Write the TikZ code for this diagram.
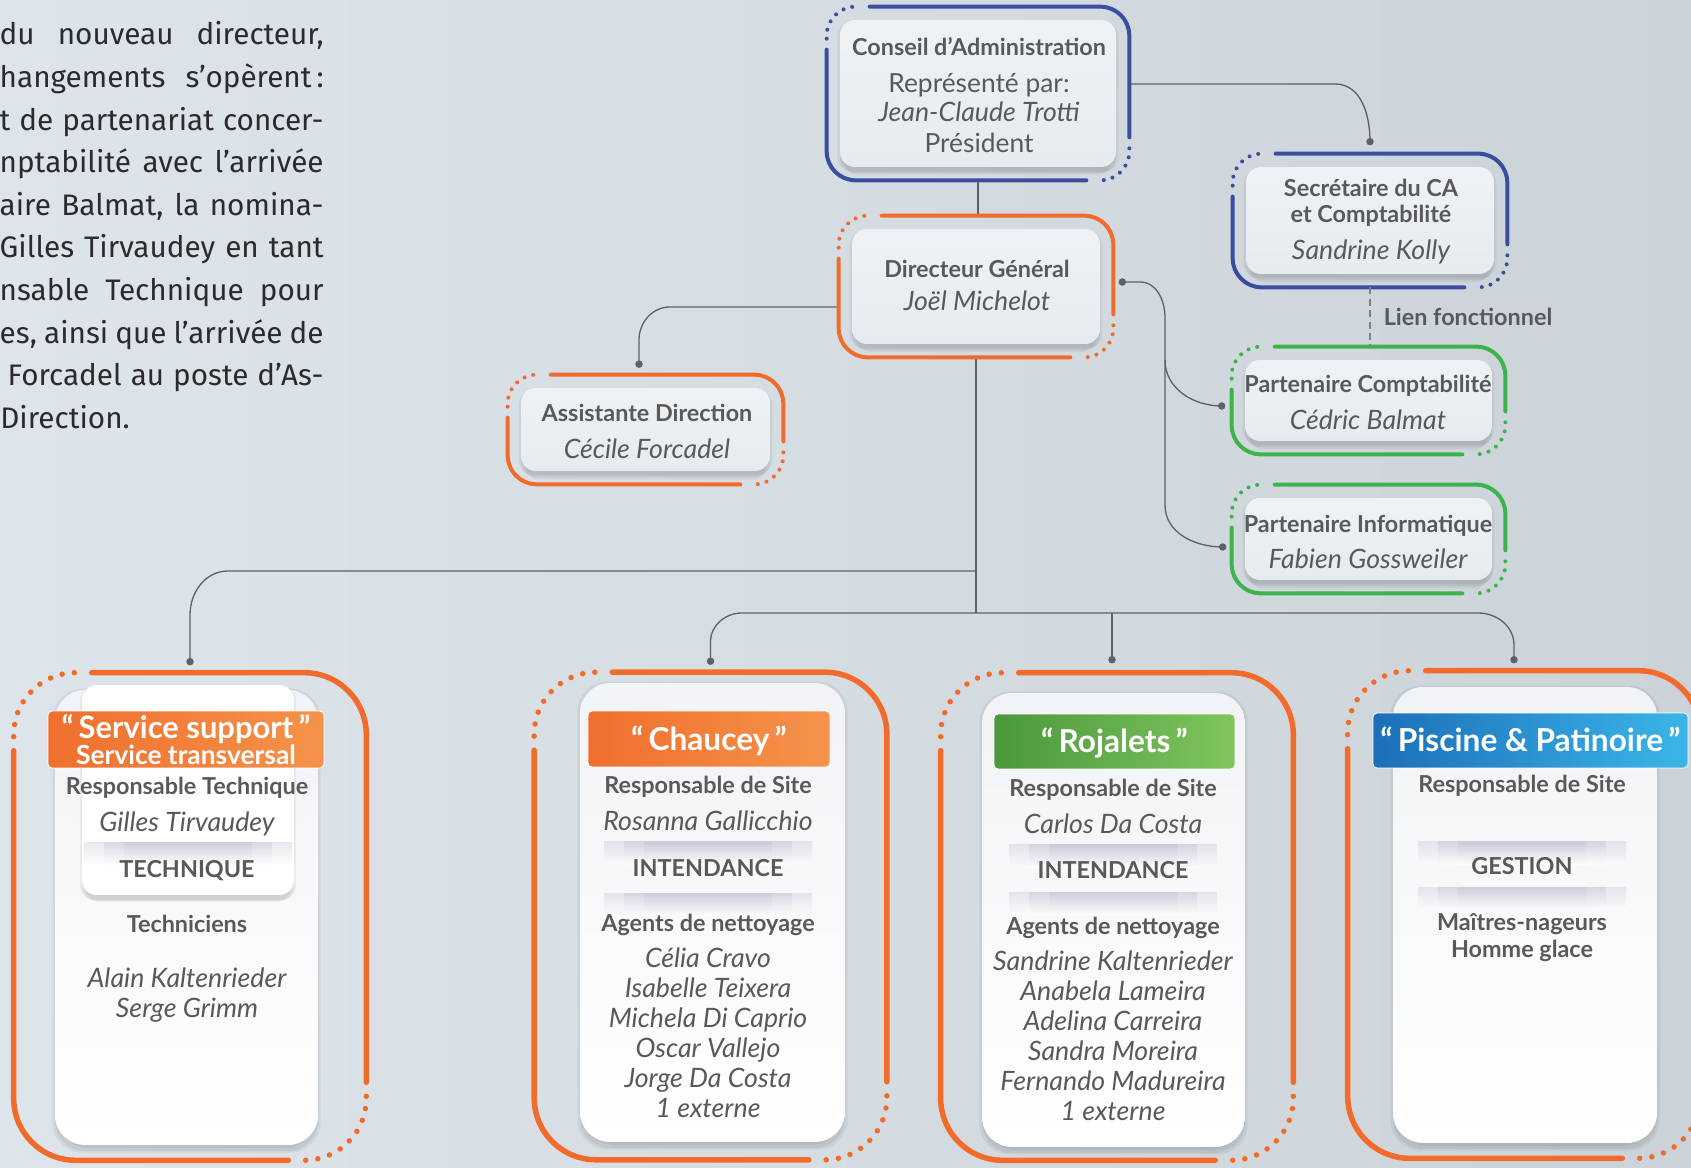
\documentclass[tikz,border=0pt]{standalone}
\usepackage{fontspec}
\setmainfont{Lato}
\newfontfamily\parafont{Fira Sans}
\usetikzlibrary{shadows}

\definecolor{bgleft}{HTML}{DEE5EA}
\definecolor{bgright}{HTML}{CBD3D9}
\definecolor{ink}{HTML}{58595B}
\definecolor{paraink}{HTML}{2B2B2D}
\definecolor{wire}{HTML}{606165}
\definecolor{cablue}{HTML}{3A4EA0}
\definecolor{dirorange}{HTML}{F26B2B}
\definecolor{partgreen}{HTML}{3CB44B}
\definecolor{cardtop}{HTML}{EEF2F5}
\definecolor{cardbot}{HTML}{E6EBEF}
\definecolor{sitetop}{HTML}{F1F3F6}
\definecolor{band}{HTML}{B9B7CC}
\definecolor{orangeL}{HTML}{F06F2E}
\definecolor{orangeR}{HTML}{F5934A}
\definecolor{greenL}{HTML}{4B983D}
\definecolor{greenR}{HTML}{80C55D}
\definecolor{blueL}{HTML}{1C6FB9}
\definecolor{blueR}{HTML}{3BB6E8}

% ring round a unit, solid with two dotted corners
% #1 node, #2 colour, #3 radius, #4 solid reach, #5 dotted reach, #6 width, #7 dot step
\newcommand{\ringframe}[7]{%
  \draw[#2,line width=#6,line cap=round,rounded corners=#3]
    ([xshift=#4]#1.north west) -- (#1.north east) -- ([yshift=#4]#1.south east);
  \draw[#2,line width=#6,line cap=round,rounded corners=#3]
    ([xshift=-#4]#1.south east) -- (#1.south west) -- ([yshift=-#4]#1.north west);
  \draw[#2,line width=#6,line cap=round,rounded corners=#3,dash pattern=on 0pt off #7]
    ([yshift=#5]#1.south east) -- (#1.south east) -- ([xshift=-#5]#1.south east);
  \draw[#2,line width=#6,line cap=round,rounded corners=#3,dash pattern=on 0pt off #7]
    ([yshift=-#5]#1.north west) -- (#1.north west) -- ([xshift=#5]#1.north west);
}
\newcommand{\topframe}[2]{\ringframe{#1}{#2}{0.58cm}{0.86cm}{0.64cm}{0.08cm}{0.18cm}}
\newcommand{\siteframe}[1]{\ringframe{#1}{dirorange}{1.24cm}{1.56cm}{1.28cm}{0.11cm}{0.245cm}}

\begin{document}
\begin{tikzpicture}[x=0.02cm,y=-0.02cm,
  ring/.style={rectangle,inner sep=0pt},
  dims/.style 2 args={minimum width=#1,minimum height=#2},
  softshadow/.style={
    general shadow={fill=black,opacity=0.05,shadow yshift=-0.06cm,shadow scale=1.02},
    general shadow={fill=black,opacity=0.06,shadow yshift=-0.12cm,shadow scale=1.0},
    general shadow={fill=black,opacity=0.05,shadow yshift=-0.2cm,shadow scale=0.97}},
  topcard/.style={rectangle,inner sep=0pt,rounded corners=0.3cm,top color=cardtop,bottom color=cardbot,softshadow},
  sitecard/.style={rectangle,inner sep=0pt,rounded corners=0.6cm,top color=sitetop,bottom color=white,softshadow},
  sitehead/.style={rectangle,inner sep=0pt,rounded corners=0.08cm,draw=white,line width=0.5pt,text=white,
    font=\bfseries\fontsize{18}{20}\selectfont},
  onecap/.style={text height=13pt,text depth=0pt},
  role/.style={text=ink,inner sep=0pt,anchor=base,font=\bfseries\fontsize{13.3}{16}\selectfont},
  who/.style={text=ink,inner sep=0pt,anchor=base,font=\itshape\fontsize{15.2}{17}\selectfont},
  note/.style={text=ink,inner sep=0pt,anchor=base,font=\fontsize{15}{17}\selectfont},
  lien/.style={text=ink,inner sep=0pt,font=\bfseries\fontsize{13.3}{16}\selectfont},
  para/.style={text=paraink,inner sep=0pt,font=\parafont\fontsize{16.9}{20}\selectfont},
  link/.style={draw=wire,line width=0.75pt},
  fnlink/.style={draw=wire!80,line width=0.9pt,dash pattern=on 4pt off 2.5pt},
  knob/.style={fill=wire}
]
\useasboundingbox (0,0) rectangle (1691,1168);
\shade[left color=bgleft,right color=bgright] (0,0) rectangle (1691,1168);
\clip (0,0) rectangle (1691,1168);

% texte a gauche
\foreach \rowtext [count=\k from 0] in {{du nouveau directeur,},{hangements s’opèrent\,:},{t de partenariat concer-},{nptabilité avec l’arrivée},{aire Balmat, la nomina-},{Gilles Tirvaudey en tant},{nsable Technique pour},{es, ainsi que l’arrivée de}}
  \node[para,anchor=base east] (txt\k) at (324,45+42.58*\k) {\makebox[6.48cm][s]{\rowtext}};
\node[para,anchor=base east] (txt8) at (324,385.6) {\makebox[6.32cm][s]{Forcadel au poste d’As-}};
\node[para,anchor=base west] (txt9) at (0,428.2) {Direction.};

% cadres
\node[ring,dims={6.04cm}{3.46cm}] (ca) at (978,93.5) {};
\node[ring,dims={5.48cm}{2.82cm}] (dg) at (976,286.5) {};
\node[ring,dims={5.5cm}{2.18cm}] (asst) at (645.5,429.5) {};
\node[ring,dims={5.48cm}{2.66cm}] (sec) at (1370,220.5) {};
\node[ring,dims={5.46cm}{2.14cm}] (pcpt) at (1368.5,400.5) {};
\node[ring,dims={5.46cm}{2.16cm}] (pinf) at (1368.5,539) {};
\node[ring,dims={7.04cm}{9.74cm}] (supp) at (190,916.5) {};
\node[ring,dims={7.04cm}{9.74cm}] (chau) at (710.5,916) {};
\node[ring,dims={7.04cm}{9.74cm}] (roja) at (1117,916.5) {};
\node[ring,dims={7.04cm}{9.74cm}] (pisc) at (1524,914.5) {};

% points d'attache
\coordinate (sec-dot) at ([yshift=0.24cm]sec.north);
\coordinate (dg-dot) at ([xshift=0.18cm,yshift=0.09cm]dg.east);
\coordinate (pcpt-dot) at ([xshift=-0.2cm,yshift=-0.11cm]pcpt.west);
\coordinate (pinf-dot) at ([xshift=-0.18cm,yshift=-0.16cm]pinf.west);
\coordinate (asst-dot) at ([xshift=-0.13cm,yshift=0.21cm]asst.north);
\coordinate (supp-dot) at ([yshift=0.22cm]supp.north);
\coordinate (chau-dot) at ([yshift=0.22cm]chau.north);
\coordinate (roja-dot) at ([xshift=-0.1cm,yshift=0.26cm]roja.north);
\coordinate (pisc-dot) at ([xshift=-0.2cm,yshift=0.22cm]pisc.north);
\coordinate (fork) at (976,571);
\coordinate (trunk) at (976,613);

% liaisons
\draw[link] ([yshift=0.19cm]ca.east) -- (1335,84) to[out=0,in=90] (sec-dot);
\draw[link] (ca.south) -- (ca.south |- dg.north);
\draw[link] (dg.south) -- (trunk);
\draw[link] ([yshift=-0.41cm]dg.west) -- (670,307) to[out=180,in=90] (asst-dot |- 0,340) -- (asst-dot);
\draw[link] (dg-dot) -- (1140,282) to[out=0,in=90] (1165,318) -- (1165,360) to[out=-90,in=180] (pcpt-dot);
\draw[link] (1165,360) -- (1165,505) to[out=-90,in=180] (pinf-dot);
\draw[link] (fork) -- (228,571) to[out=180,in=90] (190,615) -- (supp-dot);
\draw[link] (trunk) -- (742,613) to[out=180,in=90] (710.5,642) -- (chau-dot);
\draw[link] (roja-dot |- trunk) -- (roja-dot);
\draw[link] (trunk) -- (1478,613) to[out=0,in=90] (1514,645) -- (pisc-dot);
\foreach \d in {sec,dg,pcpt,pinf,asst,supp,chau,roja,pisc}
  \fill[knob] (\d-dot) circle (0.075cm);

% cartes du haut
\node[topcard,dims={5.52cm}{2.94cm}] (ca-card) at (ca) {};
\node[topcard,dims={4.96cm}{2.30cm}] (dg-card) at (dg) {};
\node[topcard,dims={4.98cm}{1.66cm}] (asst-card) at (asst) {};
\node[topcard,dims={4.96cm}{2.14cm}] (sec-card) at (sec) {};
\node[topcard,dims={4.94cm}{1.62cm}] (pcpt-card) at (pcpt) {};
\node[topcard,dims={4.94cm}{1.64cm}] (pinf-card) at (pinf) {};
\topframe{ca}{cablue}
\topframe{dg}{dirorange}
\topframe{asst}{dirorange}
\topframe{sec}{cablue}
\topframe{pcpt}{partgreen}
\topframe{pinf}{partgreen}

\draw[fnlink] (sec.south) -- (sec.south |- pcpt.north) node[midway,lien,right=0.26cm] (lien) {Lien fonctionnel};

\node[role] (ca-title) at (979,55.5) {Conseil d’Administration};
\node[note] (ca-rep) at (979,92.7) {Représenté par:};
\node[who] (ca-name) at (979,121.7) {Jean-Claude Trotti};
\node[note] (ca-pres) at (979,152.7) {Président};
\node[role] (dg-title) at (977,277.7) {Directeur Général};
\node[who] (dg-name) at (977,310.7) {Joël Michelot};
\node[role] (asst-title) at (647,421.7) {Assistante Direction};
\node[who] (asst-name) at (647,458.3) {Cécile Forcadel};
\node[role] (sec-title) at (1371,196.7) {Secrétaire du CA};
\node[role] (sec-sub) at (1371,223) {et Comptabilité};
\node[who] (sec-name) at (1371,260) {Sandrine Kolly};
\node[role] (pcpt-title) at (1368,393) {Partenaire Comptabilité};
\node[who] (pcpt-name) at (1368,430) {Cédric Balmat};
\node[role] (pinf-title) at (1368,532.7) {Partenaire Informatique};
\node[who] (pinf-name) at (1368,569) {Fabien Gossweiler};

% sites
\node[sitecard,dims={5.26cm}{9.10cm}] (supp-card) at (186.5,917.5) {};
\node[sitecard,dims={5.30cm}{9.18cm}] (chau-card) at (712.5,912.5) {};
\node[sitecard,dims={5.26cm}{9.08cm}] (roja-card) at (1113.5,920) {};
\node[sitecard,dims={5.28cm}{9.12cm}] (pisc-card) at (1525,915) {};
\node[sitecard,rounded corners=0.3cm,top color=white,bottom color=white,dims={4.24cm}{4.2cm}] (supp-front) at (188,790) {};
\siteframe{supp}
\siteframe{chau}
\siteframe{roja}
\siteframe{pisc}

\foreach \bx/\by in {188/843,708/842,708/893,1113/845,1113/892,1522/842,1522/887}
  \foreach \w in {104,84,64}
    \shade[top color=band,bottom color=white,opacity=0.3] (\bx-\w,\by) rectangle (\bx+\w,\by+22);

\node[sitehead,left color=orangeL,right color=orangeR,dims={5.52cm}{1.14cm},align=center,font=\bfseries\fontsize{17.6}{13.8}\selectfont] (supp-head) at (186,739.5)
  {“\,Service support\,”\\{\fontsize{15}{13.8}\selectfont Service transversal}};
\node[sitehead,onecap,left color=orangeL,right color=orangeR,dims={4.84cm}{1.12cm}] (chau-head) at (709,739) {“\,Chaucey\,”};
\node[sitehead,onecap,left color=greenL,right color=greenR,dims={4.82cm}{1.1cm}] (roja-head) at (1114.5,741.5) {“\,Rojalets\,”};
\node[sitehead,onecap,left color=blueL,right color=blueR,dims={6.3cm}{1.1cm}] (pisc-head) at (1530.5,740.5) {“\,Piscine \& Patinoire\,”};

% service support
\node[role] (supp-resp) at (187,795) {Responsable Technique};
\node[who] (supp-name) at (187,831.7) {Gilles Tirvaudey};
\node[role] (supp-sect) at (187,877) {TECHNIQUE};
\node[role] (supp-team) at (187,932.7) {Techniciens};
\foreach \pers [count=\k from 0] in {Alain Kaltenrieder,Serge Grimm}
  \node[who] (supp-p\k) at (187,987+30.7*\k) {\pers};

% chaucey
\node[role] (chau-resp) at (708,794) {Responsable de Site};
\node[who] (chau-name) at (708,830) {Rosanna Gallicchio};
\node[role] (chau-sect) at (708,876) {INTENDANCE};
\node[role] (chau-team) at (708,931.7) {Agents de nettoyage};
\foreach \pers [count=\k from 0] in {Célia Cravo,Isabelle Teixera,Michela Di Caprio,Oscar Vallejo,Jorge Da Costa,1 externe}
  \node[who] (chau-p\k) at (708,967+30*\k) {\pers};

% rojalets
\node[role] (roja-resp) at (1113,797) {Responsable de Site};
\node[who] (roja-name) at (1113,833) {Carlos Da Costa};
\node[role] (roja-sect) at (1113,878) {INTENDANCE};
\node[role] (roja-team) at (1113,934.7) {Agents de nettoyage};
\foreach \pers [count=\k from 0] in {Sandrine Kaltenrieder,Anabela Lameira,Adelina Carreira,Sandra Moreira,Fernando Madureira,1 externe}
  \node[who] (roja-p\k) at (1113,970+30*\k) {\pers};

% piscine
\node[role] (pisc-resp) at (1522,792.7) {Responsable de Site};
\node[role] (pisc-sect) at (1522,874) {GESTION};
\node[role] (pisc-team) at (1522,930) {Maîtres-nageurs};
\node[role] (pisc-ice) at (1522,957.3) {Homme glace};
\end{tikzpicture}
\end{document}
